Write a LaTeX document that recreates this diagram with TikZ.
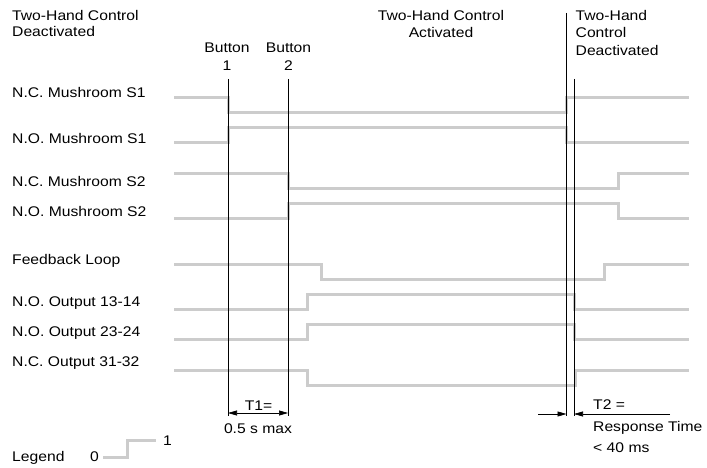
\documentclass[tikz,border=0pt]{standalone}
\usepackage{fontspec}
\setmainfont{Liberation Sans}[FakeStretch=1.12]
\usetikzlibrary{arrows.meta}
\definecolor{wavegray}{HTML}{CCCCCC}

\begin{document}
\begin{tikzpicture}[
  x=1pt, y=-1pt,
  lbl/.style={anchor=base west, inner sep=0pt, font=\fontsize{14}{17}\selectfont},
  head/.style={inner sep=0pt, font=\fontsize{14}{17.5}\selectfont},
  wave/.style={draw=wavegray, line width=3pt},
  marker/.style={draw=black, line width=0.8pt},
  dim/.style={draw=black, line width=0.6pt},
  >={Triangle[length=9pt,width=5pt]}
]
  \useasboundingbox (0,0) rectangle (707,468);

  % headers
  \node[head, align=left, anchor=north west, font=\fontsize{14}{15.4}\selectfont] (offL) at (12,10.5) {Two-Hand Control\\Deactivated};
  \node[head, align=center, anchor=north] (btn1) at (227,43) {Button\\1};
  \node[head, align=center, anchor=north] (btn2) at (288.5,43) {Button\\2};
  \node[head, align=center, anchor=north] (onC) at (441,10) {Two-Hand Control\\Activated};
  \node[head, align=left, anchor=north west] (offR) at (575.5,10) {Two-Hand\\Control\\Deactivated};

  % signal names
  \node[lbl] (ncS1) at (12,97.3) {N.C. Mushroom S1};
  \node[lbl] (noS1) at (12,143.3) {N.O. Mushroom S1};
  \node[lbl] (ncS2) at (12,186.7) {N.C. Mushroom S2};
  \node[lbl] (noS2) at (12,216.7) {N.O. Mushroom S2};
  \node[lbl] (fb) at (12,264) {Feedback Loop};
  \node[lbl] (out13) at (12,306.7) {N.O. Output 13-14};
  \node[lbl] (out23) at (12,336.7) {N.O. Output 23-24};
  \node[lbl] (out31) at (12,366.7) {N.C. Output 31-32};

  % waveforms
  \draw[wave] (174,97.5) -| (228,113) -| (566.5,97.5) -- (689,97.5);
  \draw[wave] (174,142.5) -| (228,127.5) -| (566.5,142.5) -- (689,142.5);
  \draw[wave] (174,173.5) -| (288,188.5) -| (618.5,173.5) -- (689,173.5);
  \draw[wave] (174,218.5) -| (288,203.5) -| (618.5,218.5) -- (689,218.5);
  \draw[wave] (174,264) -| (321,279.5) -| (604,264) -- (689,264);
  \draw[wave] (174,309.5) -| (307,294) -| (574,309.5) -- (689,309.5);
  \draw[wave] (174,339.5) -| (307,324.5) -| (574,339.5) -- (689,339.5);
  \draw[wave] (174,370) -| (307,385) -| (575,370) -- (689,370);

  % time markers
  \coordinate (b1t) at (228,79);
  \coordinate (b1b) at (228,416);
  \coordinate (b2t) at (288,79);
  \coordinate (b2b) at (288,416);
  \coordinate (r1t) at (566.5,13);
  \coordinate (r1b) at (566.5,416);
  \coordinate (r2t) at (574,79);
  \coordinate (r2b) at (574,416);
  \draw[marker] (b1t) -- (b1b);
  \draw[marker] (b2t) -- (b2b);
  \draw[marker] (r1t) -- (r1b);
  \draw[marker] (r2t) -- (r2b);

  % T1
  \coordinate (t1l) at (228,413);
  \coordinate (t1r) at (288,413);
  \draw[dim, <->] (t1l) -- (t1r);
  \node[lbl, anchor=base] (t1) at (258.5,410) {T1=};
  \node[lbl, anchor=base] (t1v) at (258,433) {0.5 s max};

  % T2
  \coordinate (t2a) at (538,414);
  \coordinate (t2l) at (566.5,414);
  \coordinate (t2r) at (574,414);
  \coordinate (t2b) at (670,414);
  \draw[dim, ->] (t2a) -- (t2l);
  \draw[dim, ->] (t2b) -- (t2r);
  \node[lbl] (t2) at (593,409.3) {T2 =};
  \node[lbl] (t2v) at (593,431.7) {Response Time};
  \node[lbl] (t2m) at (593,452.7) {< 40 ms};

  % legend
  \node[lbl] (leg) at (12,461.7) {Legend};
  \node[lbl] (leg0) at (90,461.7) {0};
  \node[lbl] (leg1) at (163,445) {1};
  \draw[wave] (103,457.5) -| (127,440) -- (156,440);
\end{tikzpicture}
\end{document}
